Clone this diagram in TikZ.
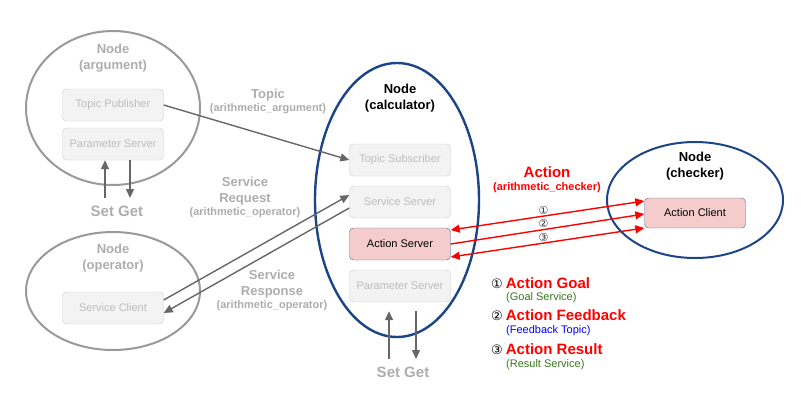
\documentclass[tikz,border=0pt]{standalone}
\usepackage{fontspec}
\setmainfont{Liberation Sans}
\newfontfamily\circfont{DejaVu Sans}
\usetikzlibrary{arrows.meta}
\definecolor{ringgray}{HTML}{999999}
\definecolor{titlegray}{HTML}{ADADAD}
\definecolor{boxfill}{HTML}{F3F3F3}
\definecolor{boxline}{HTML}{CCCCCC}
\definecolor{boxtext}{HTML}{BDBDBD}
\definecolor{arrowgray}{HTML}{666666}
\definecolor{calcblue}{HTML}{1C4587}
\definecolor{actline}{HTML}{4A6A9A}
\definecolor{actfill}{HTML}{F4CCCC}
\definecolor{legendgreen}{HTML}{38761D}
\definecolor{legendblue}{HTML}{0000FF}

\begin{document}
\begin{tikzpicture}[x=1pt,y=-1pt,
  ring/.style={draw=#1,line width=2pt},
  box/.style={draw=boxline,fill=boxfill,rounded corners=4pt,minimum width=101pt,minimum height=32pt,text=boxtext,font=\fontsize{11}{13}\selectfont},
  act box/.style={box,draw=actline,fill=actfill,text=black},
  title/.style={align=center,inner sep=0pt,font=\bfseries\fontsize{13}{16}\selectfont,text=#1},
  setget/.style={inner sep=0pt,font=\bfseries\fontsize{15}{17}\selectfont,text=titlegray},
  garrow/.style={draw=arrowgray,line width=1.4pt,-{Triangle[length=9pt,width=8pt]}},
  rarrow/.style={draw=red,line width=1.4pt},
  num/.style={font=\circfont\fontsize{11}{13}\selectfont,text=black!80,inner sep=1pt},
  legend/.style={anchor=west,inner sep=0pt},
  legend sub/.style={anchor=west,inner sep=0pt,text=#1,font=\fontsize{11}{13}\selectfont}]
\useasboundingbox (0,0) rectangle (808,405);

% node (argument)
\path[ring=ringgray] (113,108) ellipse (87pt and 77pt);
\node[title=titlegray] (argname) at (113,58) {Node\\(argument)};
\node[box] (pub) at (113,105) {Topic Publisher};
\node[box] (parA) at (113,144) {Parameter Server};
\coordinate (setA) at (105,198);
\coordinate (getA) at (130,198);
\draw[garrow] (setA) -- (setA |- parA.south);
\draw[garrow] (getA |- parA.south) -- (getA);
\node[setget] (sgA) at (117,211) {Set Get};

% node (operator)
\path[ring=ringgray] (113,291) ellipse (87pt and 59pt);
\node[title=titlegray] (oprname) at (113,258) {Node\\(operator)};
\node[box] (cli) at (113,308) {Service Client};

% node (calculator)
\path[ring=calcblue,line width=2.4pt] (397,200) ellipse (82pt and 137pt);
\node[title=black] (calcname) at (400,98) {Node\\(calculator)};
\node[box] (sub) at (400,160) {Topic Subscriber};
\node[box] (srv) at (400,202) {Service Server};
\node[act box] (actsrv) at (400,244) {Action Server};
\node[box] (parC) at (400,286) {Parameter Server};
\coordinate (setC) at (389,359);
\coordinate (getC) at (416,359);
\draw[garrow] (setC) -- ([yshift=-9pt]setC |- parC.south);
\draw[garrow] ([yshift=-9pt]getC |- parC.south) -- (getC);
\node[setget] (sgC) at (403,372) {Set Get};

% node (checker)
\path[ring=calcblue] (695,200) ellipse (88pt and 58pt);
\node[title=black] (chkname) at (695,166) {Node\\(checker)};
\node[act box,minimum height=30pt] (actcli) at (695,213) {Action Client};

% topic and service
\draw[garrow] (pub.east) -- (sub.west);
\node[title=titlegray] (topic) at (268,101) {Topic\\[-3pt]{\fontsize{11}{13}\selectfont(arithmetic\_argument)}};
\draw[garrow] ([yshift=8pt]cli.east) -- ([yshift=7pt]srv.west);
\draw[garrow] ([yshift=-6pt]srv.west) -- ([yshift=-5pt]cli.east);
\node[title=titlegray] (req) at (245,197) {Service\\Request\\[-3pt]{\fontsize{11}{13}\selectfont(arithmetic\_operator)}};
\node[title=titlegray] (res) at (272,290) {Service\\Response\\[-3pt]{\fontsize{11}{13}\selectfont(arithmetic\_operator)}};

% action
\node[title=red] (action) at (547,180) {{\fontsize{15}{17}\selectfont Action}\\[-3pt]{\fontsize{11}{13}\selectfont(arithmetic\_checker)}};
\draw[rarrow,{Triangle[length=9pt,width=8pt]}-{Triangle[length=9pt,width=8pt]}] ([yshift=14pt]actsrv.east) -- node[num,pos=0.48,above] {①} ([yshift=12pt]actcli.west);
\draw[rarrow,-{Triangle[length=9pt,width=8pt]}] (actsrv.east) -- node[num,pos=0.48,above] {②} ([yshift=-1pt]actcli.west);
\draw[rarrow,{Triangle[length=9pt,width=8pt]}-{Triangle[length=9pt,width=8pt]}] ([yshift=-13pt]actsrv.east) -- node[num,pos=0.48,above] {③} ([yshift=-15pt]actcli.west);

% legend
\node[legend] (goal) at (491,283) {{\circfont\fontsize{13}{15}\selectfont ①}\kern3pt{\color{red}\bfseries\fontsize{15}{17}\selectfont Action Goal}};
\node[legend sub=legendgreen] (goalsub) at (506,298) {(Goal Service)};
\node[legend] (fb) at (491,315) {{\circfont\fontsize{13}{15}\selectfont ②}\kern3pt{\color{red}\bfseries\fontsize{15}{17}\selectfont Action Feedback}};
\node[legend sub=legendblue] (fbsub) at (506,331) {(Feedback Topic)};
\node[legend] (result) at (491,349) {{\circfont\fontsize{13}{15}\selectfont ③}\kern3pt{\color{red}\bfseries\fontsize{15}{17}\selectfont Action Result}};
\node[legend sub=legendgreen] (resultsub) at (506,365) {(Result Service)};
\end{tikzpicture}
\end{document}
